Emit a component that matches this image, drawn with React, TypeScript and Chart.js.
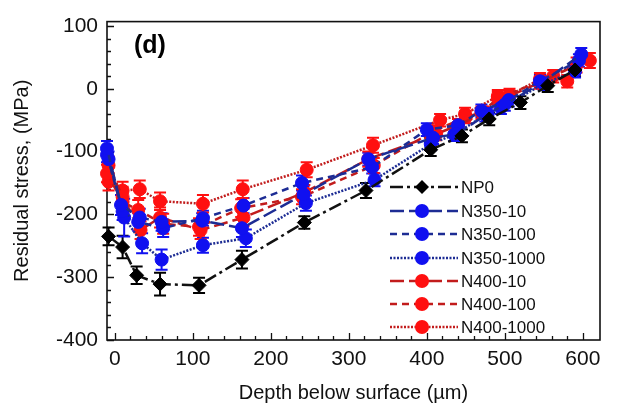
import React, { useEffect, useRef } from 'react';
import { Chart, registerables } from 'chart.js';

Chart.register(...registerables);

// ---------- data ----------
const seriesNames = ['NP0', 'N350-10', 'N350-100', 'N350-1000', 'N400-10', 'N400-100', 'N400-1000'];

const np0Depth = [-8, 10, 28, 58, 108, 163, 243, 322, 405, 445, 480, 520, 555, 590];
const np0Stress = [-235, -252, -297, -311, -313, -272, -213, -162, -97, -75, -48, -22, 5, 30];
const np0Err = [14, 18, 14, 18, 12, 14, 10, 12, 10, 10, 10, 10, 10, 10];

const n35010Depth = [-10, 8, 32, 60, 112, 163, 242, 325, 408, 438, 478, 500, 548, 598];
const n35010Stress = [-95, -185, -205, -212, -210, -222, -168, -112, -78, -72, -40, -25, 10, 55];
const n35010Err = [12, 16, 14, 14, 12, 14, 12, 10, 10, 10, 10, 10, 10, 10];

const n350100Depth = [-10, 10, 30, 62, 113, 165, 240, 330, 400, 440, 470, 505, 545, 595];
const n350100Stress = [-105, -195, -212, -222, -206, -186, -150, -125, -65, -58, -35, -18, 12, 45];
const n350100Err = [12, 14, 14, 14, 12, 12, 12, 10, 10, 10, 10, 10, 10, 10];

const n3501000Depth = [-8, 12, 35, 60, 113, 168, 245, 333, 405, 435, 475, 495, 550, 590];
const n3501000Stress = [-112, -205, -246, -272, -249, -238, -182, -145, -88, -73, -42, -30, 8, 28];
const n3501000Err = [12, 30, 16, 16, 12, 14, 12, 10, 10, 10, 10, 10, 10, 10];

const n40010Depth = [-8, 10, 33, 58, 110, 165, 243, 325, 412, 440, 473, 505, 545, 592];
const n40010Stress = [-122, -172, -225, -205, -225, -205, -165, -112, -72, -58, -38, -12, 10, 38];
const n40010Err = [14, 16, 14, 16, 14, 14, 12, 12, 10, 10, 10, 10, 10, 12];

const n400100Depth = [-10, 10, 30, 62, 108, 162, 240, 332, 408, 450, 470, 491, 562, 580];
const n400100Stress = [-135, -180, -193, -215, -220, -190, -172, -122, -68, -45, -38, -15, 20, 12];
const n400100Err = [14, 16, 16, 16, 14, 14, 12, 12, 10, 10, 10, 10, 10, 10];

const n4001000Depth = [-8, 10, 32, 58, 113, 164, 246, 331, 417, 449, 491, 506, 545, 609];
const n4001000Stress = [-148, -162, -160, -179, -183, -160, -129, -90, -50, -40, -12, -10, 15, 45];
const n4001000Err = [14, 14, 14, 14, 14, 14, 12, 12, 10, 10, 10, 10, 10, 12];

const xTickLabels = [0, 100, 200, 300, 400, 500, 600];
const yTickLabels = [-400, -300, -200, -100, 0, 100];

const depthSets = [np0Depth, n35010Depth, n350100Depth, n3501000Depth, n40010Depth, n400100Depth, n4001000Depth];
const stressSets = [np0Stress, n35010Stress, n350100Stress, n3501000Stress, n40010Stress, n400100Stress, n4001000Stress];
const errSets = [np0Err, n35010Err, n350100Err, n3501000Err, n40010Err, n400100Err, n4001000Err];

// ---------- styles ----------
const BLUE_LINE = '#1d2c94';
const BLUE_MARK = '#1010f0';
const RED_LINE = '#c21c1c';
const RED_MARK = '#ff1010';
const styles = [
  { line: '#111111', mark: '#000000', dash: [13, 4, 3, 4], shape: 'rectRot', r: 7 },
  { line: BLUE_LINE, mark: BLUE_MARK, dash: [14, 5], shape: 'circle', r: 6.5 },
  { line: BLUE_LINE, mark: BLUE_MARK, dash: [7, 5], shape: 'circle', r: 6.5 },
  { line: BLUE_LINE, mark: BLUE_MARK, dash: [2, 1.5], shape: 'circle', r: 6.5 },
  { line: RED_LINE, mark: RED_MARK, dash: [14, 5], shape: 'circle', r: 6.5 },
  { line: RED_LINE, mark: RED_MARK, dash: [7, 5], shape: 'circle', r: 6.5 },
  { line: RED_LINE, mark: RED_MARK, dash: [2, 1.5], shape: 'circle', r: 6.5 },
];

const FONT = "'Liberation Sans', Arial, sans-serif";

const errorBarPlugin = {
  id: 'errorBars',
  beforeDatasetsDraw(chart: any) {
    const { ctx, chartArea, scales } = chart;
    const x = scales.x;
    const y = scales.y;
    ctx.save();
    // frame
    ctx.strokeStyle = '#111';
    ctx.lineWidth = 1.6;
    ctx.setLineDash([]);
    ctx.strokeRect(chartArea.left, chartArea.top, chartArea.right - chartArea.left, chartArea.bottom - chartArea.top);
    // inward ticks
    ctx.lineWidth = 1.3;
    ctx.beginPath();
    for (let v = -400; v <= 100; v += 20) {
      const py = Math.round(y.getPixelForValue(v)) + 0.5;
      const len = v % 100 === 0 ? 7 : 4;
      ctx.moveTo(chartArea.left, py);
      ctx.lineTo(chartArea.left + len, py);
    }
    for (let v = 0; v <= 600; v += 20) {
      const px = Math.round(x.getPixelForValue(v)) + 0.5;
      const len = v % 100 === 0 ? 7 : 4;
      ctx.moveTo(px, chartArea.bottom);
      ctx.lineTo(px, chartArea.bottom - len);
    }
    ctx.stroke();
    // error bars
    chart.data.datasets.forEach((ds: any, di: number) => {
      const errs = errSets[di];
      ctx.strokeStyle = styles[di].mark;
      ctx.lineWidth = 2;
      ds.data.forEach((p: any, i: number) => {
        const px = x.getPixelForValue(p.x);
        const y1 = y.getPixelForValue(p.y + errs[i]);
        const y2 = y.getPixelForValue(p.y - errs[i]);
        ctx.beginPath();
        ctx.moveTo(px, y1);
        ctx.lineTo(px, y2);
        ctx.moveTo(px - 6, y1);
        ctx.lineTo(px + 6, y1);
        ctx.moveTo(px - 6, y2);
        ctx.lineTo(px + 6, y2);
        ctx.stroke();
      });
    });
    ctx.restore();
  },
  afterDraw(chart: any) {
    const { ctx } = chart;
    ctx.save();
    ctx.fillStyle = '#000';
    ctx.font = `bold 25px ${FONT}`;
    ctx.textBaseline = 'middle';
    ctx.textAlign = 'left';
    ctx.fillText('(d)', 134, 46);
    // legend
    const rows = [187, 211, 234, 258, 281, 304, 327];
    seriesNames.forEach((name, i) => {
      const st = styles[i];
      const ry = rows[i];
      ctx.strokeStyle = st.line;
      ctx.lineWidth = 2.5;
      ctx.setLineDash(st.dash);
      ctx.beginPath();
      ctx.moveTo(390, ry);
      ctx.lineTo(458, ry);
      ctx.stroke();
      ctx.setLineDash([]);
      ctx.fillStyle = st.mark;
      ctx.beginPath();
      if (st.shape === 'rectRot') {
        ctx.moveTo(422, ry - 7);
        ctx.lineTo(429, ry);
        ctx.lineTo(422, ry + 7);
        ctx.lineTo(415, ry);
        ctx.closePath();
      } else {
        ctx.arc(422, ry, 7, 0, Math.PI * 2);
      }
      ctx.fill();
      ctx.fillStyle = '#111';
      ctx.font = `17px ${FONT}`;
      ctx.fillText(name, 461, ry + 1);
    });
    ctx.restore();
  },
};

export default function App() {
  const ref = useRef<HTMLCanvasElement | null>(null);
  useEffect(() => {
    if (!ref.current) return;
    const datasets = seriesNames.map((name, i) => ({
      label: name,
      data: depthSets[i].map((d, j) => ({ x: d, y: stressSets[i][j] })),
      borderColor: styles[i].line,
      borderWidth: 2.5,
      borderDash: styles[i].dash,
      pointStyle: styles[i].shape,
      pointRadius: styles[i].r,
      pointBackgroundColor: styles[i].mark,
      pointBorderColor: styles[i].mark,
      pointBorderWidth: 1,
      tension: 0,
      fill: false,
      clip: false as any,
    }));
    const chart = new Chart(ref.current, {
      type: 'line',
      data: { datasets },
      options: {
        animation: false,
        responsive: false,
        devicePixelRatio: 1,
        layout: { padding: { top: 17, right: 28, left: 0, bottom: 0 } },
        plugins: { legend: { display: false }, tooltip: { enabled: false } },
        scales: {
          x: {
            type: 'linear',
            min: -10,
            max: 622,
            afterFit: (s: any) => { s.height = 66; },
            afterBuildTicks: (s: any) => { s.ticks = xTickLabels.map((v) => ({ value: v })); },
            grid: { display: false, drawTicks: false },
            border: { display: false },
            ticks: { color: '#111', font: { size: 21, family: FONT }, padding: 7, maxRotation: 0 },
            title: { display: true, text: 'Depth below surface (µm)', color: '#111', font: { size: 20, family: FONT }, padding: { top: 0, bottom: 1 } },
          },
          y: {
            type: 'linear',
            min: -400,
            max: 107,
            afterFit: (s: any) => { s.width = 107; },
            afterBuildTicks: (s: any) => { s.ticks = yTickLabels.map((v) => ({ value: v })); },
            grid: { display: false, drawTicks: false },
            border: { display: false },
            ticks: { color: '#111', font: { size: 21, family: FONT }, padding: 9 },
            title: { display: true, text: 'Residual stress, (MPa)', color: '#111', font: { size: 20, family: FONT }, padding: { top: 10, bottom: 0 } },
          },
        },
      },
      plugins: [errorBarPlugin],
    });
    return () => chart.destroy();
  }, []);
  return (
    <div style={{ position: 'absolute', left: 0, top: 0, width: 628, height: 406, background: '#fff' }}>
      <canvas ref={ref} width={628} height={406} />
    </div>
  );
}
